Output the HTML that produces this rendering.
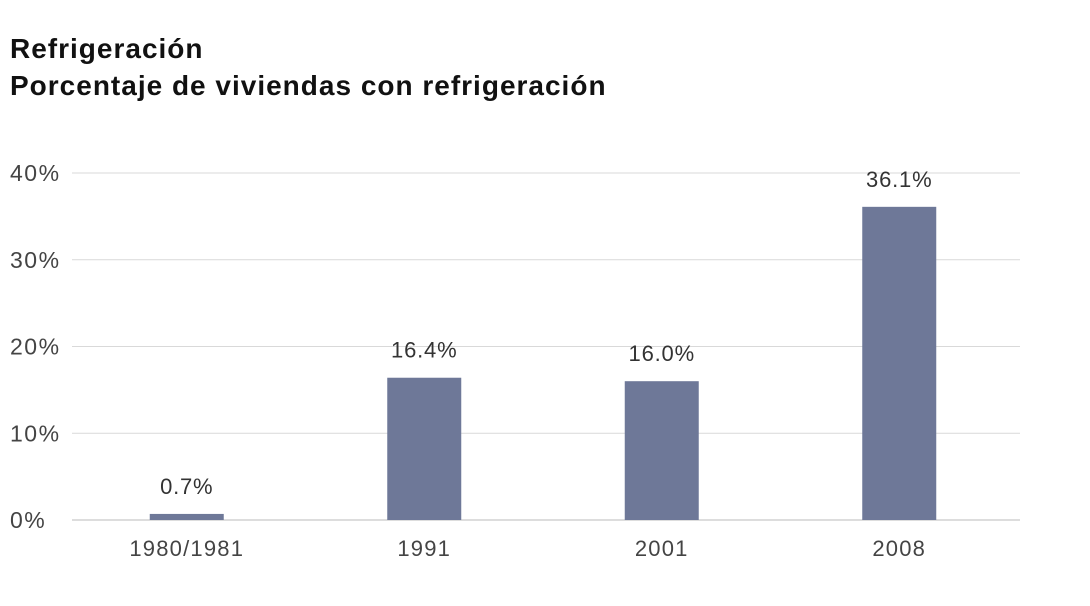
<!DOCTYPE html>
<html><head><meta charset="utf-8"><style>
body{margin:0;background:#fff;width:1090px;height:606px;overflow:hidden;font-family:"Liberation Sans",sans-serif}
.t{position:absolute;left:10px;font-weight:bold;font-size:28px;letter-spacing:1px;color:#111}
</style></head><body>
<div class="t" style="top:33px">Refrigeración</div>
<div class="t" style="top:70px">Porcentaje de viviendas con refrigeración</div>
<svg id="c" width="1090" height="606" style="position:absolute;left:0;top:0"></svg>
<script>
const categories=["1980/1981","1991","2001","2008"];
const values=[0.7,16.4,16.0,36.1];
const valueLabels=["0.7%","16.4%","16.0%","36.1%"];
const ticks=[0,10,20,30,40];
const tickLabels=["0%","10%","20%","30%","40%"];
const svg=document.getElementById('c');
const NS="http://www.w3.org/2000/svg";
const y=v=>520-v*8.675;
const x0=68,band=237.5,bw=74;
const cx=i=>x0+band*(i+0.5);
function mk(t,a,txt){const e=document.createElementNS(NS,t);for(const k in a)e.setAttribute(k,a[k]);if(txt!=null)e.textContent=txt;svg.appendChild(e);return e;}
ticks.forEach((t,i)=>{
 const l=mk('line',{x1:72,x2:1020,y1:y(t),y2:y(t),stroke:t===0?'#bbb':'#d9d9d9','stroke-width':1});
 
 
 const tx=mk('text',{x:10,y:y(t)+8,'font-size':23,'letter-spacing':1.5,fill:'#444','font-family':'Liberation Sans, sans-serif'},tickLabels[i]);
 
 
});
categories.forEach((c,i)=>{
 const b=mk('rect',{x:cx(i)-bw/2,y:y(values[i]),width:bw,height:520-y(values[i]),fill:'#6e7898'});
 
 
 const v=mk('text',{x:cx(i),y:y(values[i])-20,'text-anchor':'middle','font-size':22,'letter-spacing':0.8,fill:'#333','font-family':'Liberation Sans, sans-serif'},valueLabels[i]);
 
 
 const cl=mk('text',{x:cx(i),y:556,'text-anchor':'middle','font-size':22,'letter-spacing':1.2,fill:'#444','font-family':'Liberation Sans, sans-serif'},c);
 
 
});
</script>
</body></html>
